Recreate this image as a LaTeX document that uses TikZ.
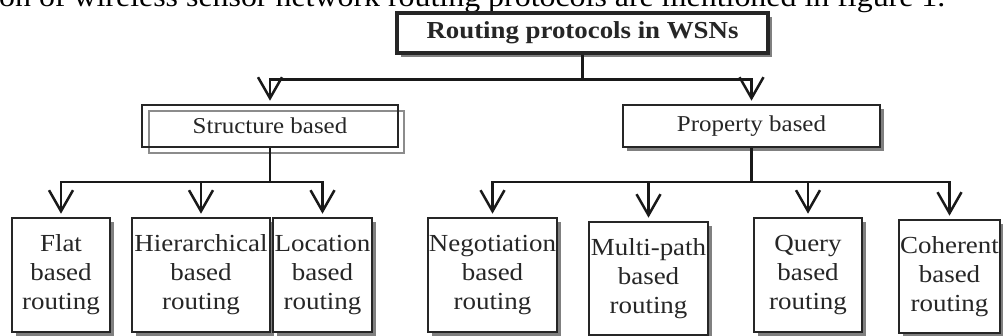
\documentclass[tikz,border=0pt]{standalone}
\usepackage{fontspec}
\setmainfont{Liberation Serif}[FakeStretch=1.1]
\usetikzlibrary{arrows.meta,shadows}

\tikzset{
  box/.style={draw=black!85, line width=2.6pt, fill=white, rectangle,
    inner sep=0pt, align=center, text=black!85,
    drop shadow={shadow xshift=4pt, shadow yshift=-4pt, fill=black!50, opacity=1}},
  leafbox/.style={box, font=\fontsize{24.5}{29}\selectfont},
  midbox/.style={box, font=\fontsize{22.7}{26}\selectfont},
  link/.style={draw=black!90, line width=2.7pt},
  arr/.style={link, -{Straight Barb[length=21pt, width=24pt, line width=2.5pt]}, shorten >=3pt}
}

\begin{document}
\begin{tikzpicture}[x=1pt, y=-1pt]
  \useasboundingbox (0,0) rectangle (1003,336);

  % running sentence above the figure
  \node[anchor=base west, inner sep=0pt, font=\fontsize{29}{32}\selectfont]
    (caption) at (-1,6.5) {on of wireless sensor network routing protocols are mentioned in figure 1.};

  % root
  \node[box, line width=3.4pt, minimum width=371pt, minimum height=40pt,
        font=\fontsize{24.4}{28}\selectfont\bfseries] (root) at (582.5,33) {Routing protocols in WSNs};

  % second level
  \draw[black!45, line width=1.8pt] (149,111) rectangle (404,153);
  \node[draw=black!85, line width=2.6pt, rectangle, inner sep=0pt, text=black!85,
        minimum width=256pt, minimum height=42pt, font=\fontsize{22.7}{26}\selectfont]
        (struct) at (270,126) {Structure based};
  \node[midbox, minimum width=257pt, minimum height=42pt] (prop) at (751.5,126) {Property based};

  % leaves
  \node[leafbox, minimum width=98pt,  minimum height=114pt] (flat) at (61,275)    {Flat\\based\\routing};
  \node[leafbox, minimum width=138pt, minimum height=114pt] (hier) at (201,275)   {Hierarchical\\based\\routing};
  \node[leafbox, minimum width=99pt,  minimum height=114pt] (loc)  at (322.5,275) {Location\\based\\routing};
  \node[leafbox, minimum width=129pt, minimum height=114pt] (neg)  at (492.5,275) {Negotiation\\based\\routing};
  \node[leafbox, minimum width=119pt, minimum height=113pt] (multi) at (648.5,278.5) {Multi-path\\based\\routing};
  \node[leafbox, minimum width=108pt, minimum height=114pt] (query) at (808,275)  {Query\\based\\routing};
  \node[leafbox, minimum width=101pt, minimum height=113pt] (coh)  at (949.5,276.5) {Coherent\\based\\routing};

  % branching points
  \coordinate (j0) at (582.5,79.5);
  \coordinate (j1) at (270,182);
  \coordinate (j2) at (751.5,182);

  % connectors
  \draw[link] (root.south) -- (j0);
  \draw[arr] (j0) -| (struct.north);
  \draw[arr] (j0) -| (prop.north);

  \draw[link] (struct.south) -- (j1);
  \draw[arr] (j1) -| (flat.north);
  \draw[arr] (j1) -| (hier.north);
  \draw[arr] (j1) -| (loc.north);

  \draw[link] (prop.south) -- (j2);
  \draw[arr] (j2) -| (neg.north);
  \draw[arr] (j2) -| (multi.north);
  \draw[arr] (j2) -| (query.north);
  \draw[arr] (j2) -| (coh.north);
\end{tikzpicture}
\end{document}
